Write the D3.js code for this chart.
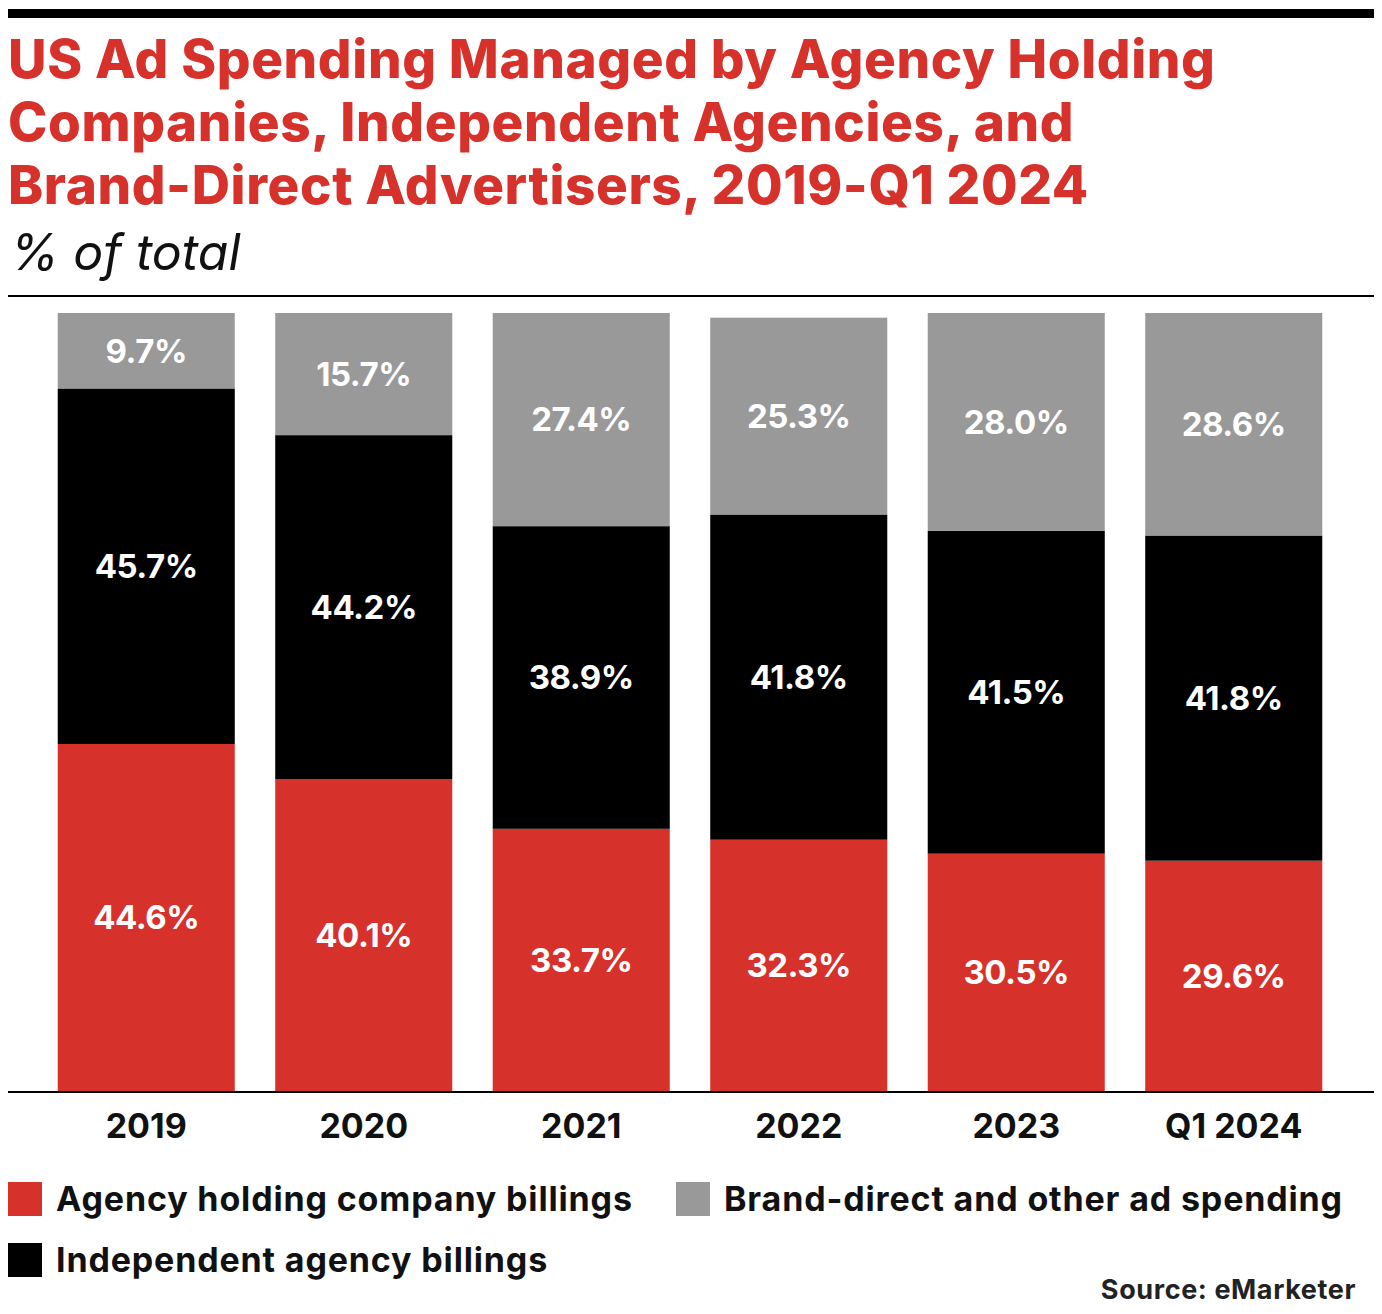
<!DOCTYPE html>
<html><head><meta charset="utf-8">
<script src="https://cdn.jsdelivr.net/npm/d3@7"></script>
<style>body{margin:0;background:#fff}svg{display:block;font-family:Inter,"Noto Sans",sans-serif}</style>
</head><body>
<svg id="chart" width="1382" height="1314"></svg>
<script>
(function(){
    // data
    let years = ["2019","2020","2021","2022","2023","Q1 2024"];
    let holding = [44.6,40.1,33.7,32.3,30.5,29.6];
    let independent = [45.7,44.2,38.9,41.8,41.5,41.8];
    let brandDirect = [9.7,15.7,27.4,25.3,28.0,28.6];
    let seriesNames = ["Agency holding company billings","Independent agency billings","Brand-direct and other ad spending"];
    let colors = ["#d7312b","#000000","#999999"];

    let svg = d3.select("#chart");
    let red = "#d7312b";

    svg.append("rect").attr("x",8).attr("y",9).attr("width",1366).attr("height",9).attr("fill","#000");

    let title = ["US Ad Spending Managed by Agency Holding","Companies, Independent Agencies, and","Brand-Direct Advertisers, 2019-Q1 2024"];
    title.forEach(function(t,i){
        svg.append("text").attr("x",8).attr("y",78+i*63).text(t)
            .attr("fill",red).attr("font-size",53).attr("font-weight",800).attr("letter-spacing",0.6);
    });
    svg.append("text").attr("x",10).attr("y",270).text("% of total")
        .attr("font-size",50).attr("font-style","italic").attr("fill","#111");
    svg.append("rect").attr("x",8).attr("y",295).attr("width",1366).attr("height",2).attr("fill","#000");

    let x = d3.scaleBand().domain(years).range([37.5,1342.5]).paddingInner(0.186).paddingOuter(0.093);
    let y = d3.scaleLinear().domain([0,100]).range([1091,313]);

    let table = years.map(function(yr,i){ return {year:yr, s0:holding[i], s1:independent[i], s2:brandDirect[i]}; });
    let stack = d3.stack().keys(["s0","s1","s2"])(table);

    let g = svg.append("g");
    stack.forEach(function(layer,li){
        g.selectAll(null).data(layer).enter().append("rect")
            .attr("x",d=>x(d.data.year)).attr("width",x.bandwidth())
            .attr("y",d=>y(d[1])).attr("height",d=>y(d[0])-y(d[1]))
            .attr("fill",colors[li]);
        g.selectAll(null).data(layer).enter().append("text")
            .attr("x",d=>x(d.data.year)+x.bandwidth()/2)
            .attr("y",d=>(y(d[0])+y(d[1]))/2)
            .attr("dy","0.36em").attr("text-anchor","middle")
            .attr("fill","#fff").attr("font-size",33).attr("font-weight",700).attr("letter-spacing",-0.5)
            .text(d=>(d[1]-d[0]).toFixed(1)+"%");
    });

    svg.append("rect").attr("x",8).attr("y",1091).attr("width",1366).attr("height",2).attr("fill","#000");

    let axis = svg.append("g").attr("transform","translate(0,1093)")
        .call(d3.axisBottom(x).tickSize(0).tickPadding(0));
    axis.select(".domain").remove();
    axis.selectAll("text").attr("y",45).attr("dy",0).attr("font-size",34).attr("font-weight",700)
        .attr("fill","#111").style("font-family","Inter,sans-serif");

    let legend = [
        {i:0,x:8,y:1182},{i:2,x:676,y:1182},{i:1,x:8,y:1243}
    ];
    legend.forEach(function(l){
        svg.append("rect").attr("x",l.x).attr("y",l.y).attr("width",34).attr("height",34).attr("fill",colors[l.i]);
        svg.append("text").attr("x",l.x+48).attr("y",l.y+29).text(seriesNames[l.i])
            .attr("font-size",34).attr("font-weight",700).attr("letter-spacing",0.85).attr("fill","#111");
    });
    svg.append("text").attr("x",1356).attr("y",1299).attr("text-anchor","end").text("Source: eMarketer")
        .attr("font-size",27).attr("font-weight",700).attr("letter-spacing",0.6).attr("fill","#222");
})();
</script>
</body></html>
